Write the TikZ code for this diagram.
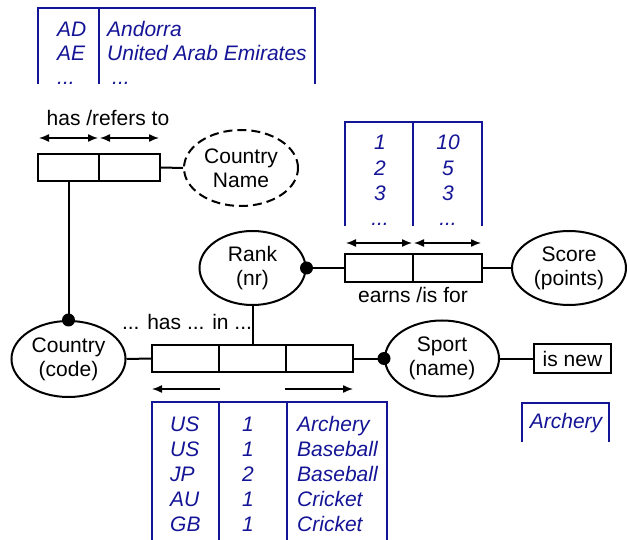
\documentclass[tikz,border=0pt]{standalone}
\usepackage{fontspec}
\setmainfont{Liberation Sans}
\usetikzlibrary{shapes.geometric,arrows.meta}
\definecolor{tblue}{RGB}{20,20,150}
\begin{document}
\begin{tikzpicture}[x=1pt,y=-1pt,
  every node/.style={font=\fontsize{21}{24}\selectfont},
  obj/.style={ellipse,draw,line width=2pt,minimum width=114pt,minimum height=76pt,inner sep=0pt,align=center},
  role/.style={rectangle,draw,line width=2pt,minimum height=27pt,inner sep=0pt},
  conn/.style={line width=2pt},
  span/.style={line width=1.4pt},
  tip/.style={-{Latex[length=10pt,width=8pt]}},
  tips/.style={{Latex[length=10pt,width=8pt]}-{Latex[length=10pt,width=8pt]}},
  grid/.style={tblue,line width=2pt},
  cell/.style={text=tblue,font=\fontsize{21}{24}\selectfont\itshape,inner sep=0pt},
  lbl/.style={inner sep=0pt,anchor=base},
  dot/.style={circle,fill,inner sep=0pt,minimum size=13pt}]
\useasboundingbox (0,0) rectangle (627,540);

% ---- CountryCode has / refers to CountryName
\node[role,minimum width=61pt] (r1a) at (68.5,167.5) {};
\node[role,minimum width=61pt] (r1b) at (129.5,167.5) {};
\node[obj,dash pattern=on 9pt off 5pt] (cname) at (241,168) {Country\\Name};
\draw[conn] (r1b.east) -- (cname.west);
\draw[span,tips] ([xshift=2pt,yshift=15pt]r1a.north west) -- ([xshift=-2pt,yshift=15pt]r1a.north east);
\draw[span,tips] ([xshift=2pt,yshift=15pt]r1b.north west) -- ([xshift=-2pt,yshift=15pt]r1b.north east);
\node[lbl] (l1) at (108,126) {has /refers to};

% ---- Country
\node[obj] (country) at (68.5,359) {Country\\(code)};
\draw[conn] (r1a.south) -- (country.north);
\node[dot] (d1) at (country.north) {};

% ---- Rank earns / is for Score
\node[obj,minimum width=106pt,minimum height=74pt] (rank) at (252.5,268) {Rank\\(nr)};
\node[role,minimum width=68pt,minimum height=28pt] (r2a) at (379,268) {};
\node[role,minimum width=69pt,minimum height=28pt] (r2b) at (447.5,268) {};
\node[obj,minimum height=74pt] (score) at (569,268) {Score\\(points)};
\draw[conn] (rank.east) -- (r2a.west);
\node[dot] (d2) at (rank.east) {};
\draw[conn] (r2b.east) -- (score.west);
\draw[span,tips] ([xshift=2pt,yshift=10pt]r2a.north west) -- ([xshift=-2pt,yshift=10pt]r2a.north east);
\draw[span,tips] ([xshift=2pt,yshift=10pt]r2b.north west) -- ([xshift=-2pt,yshift=10pt]r2b.north east);
\node[lbl] (l2) at (413,303) {earns /is for};

% ---- Country has Rank in Sport
\node[role,minimum width=67pt] (r3a) at (185.5,358.5) {};
\node[role,minimum width=67pt] (r3b) at (252.5,358.5) {};
\node[role,minimum width=67pt] (r3c) at (319.5,358.5) {};
\node[obj] (sport) at (442,358.5) {Sport\\(name)};
\draw[conn] (country.east) -- (r3a.west);
\draw[conn] (rank.south) -- (r3b.north);
\draw[conn] (r3c.east) -- (sport.west);
\node[dot] (d3) at (sport.west) {};
\draw[span,tip] ([yshift=-16pt]r3a.south east) -- ([xshift=1pt,yshift=-16pt]r3a.south west);
\draw[span,tip] ([yshift=-16pt]r3c.south west) -- ([xshift=-1pt,yshift=-16pt]r3c.south east);
\node[lbl] (l3) at (187,330) {... has ... in ...};

% ---- Sport is new
\node[rectangle,draw,line width=2pt,minimum width=77pt,minimum height=29pt,inner sep=0pt] (isnew) at (572.5,358.5) {is new};
\draw[conn] (sport.east) -- (isnew.west);

% ---- sample populations
\begin{scope}
\clip (0,0) rectangle (627,84);
\draw[grid] (38,84) -- (38,8) -- (315,8) -- (315,84);
\draw[grid] (99,8) -- (99,84);
\node[cell,anchor=base west] (t1a) at (57,36.5) {AD};
\node[cell,anchor=base west] (t1b) at (57,60.5) {AE};
\node[cell,anchor=base west] (t1c) at (57,84.5) {...};
\node[cell,anchor=base west] (t1d) at (107,36.5) {Andorra};
\node[cell,anchor=base west] (t1e) at (107,60.5) {United Arab Emirates};
\node[cell,anchor=base west] (t1f) at (112,84.5) {...};
\end{scope}

\begin{scope}
\clip (0,0) rectangle (627,226);
\draw[grid] (345,226) -- (345,122) -- (482,122) -- (482,226);
\draw[grid] (413,122) -- (413,226);
\foreach \a/\b/\y [count=\i] in {1/10/149.5, 2/5/175.5, 3/3/200.5}{
  \node[cell,anchor=base] (s\i a) at (380,\y) {\a};
  \node[cell,anchor=base] (s\i b) at (448,\y) {\b};
}
\node[cell,anchor=base] (s4a) at (380,225.5) {...};
\node[cell,anchor=base] (s4b) at (448,225.5) {...};
\end{scope}

\draw[grid] (152,540) -- (152,402) -- (387,402) -- (387,540);
\draw[grid] (219,402) -- (219,540);
\draw[grid] (287,402) -- (287,540);
\foreach \c/\r/\s/\y [count=\i] in {US/1/Archery/431.5, US/1/Baseball/456.5, JP/2/Baseball/481.5, AU/1/Cricket/506.5, GB/1/Cricket/531.5}{
  \node[cell,anchor=base west] (p\i a) at (170,\y) {\c};
  \node[cell,anchor=base] (p\i b) at (248,\y) {\r};
  \node[cell,anchor=base west] (p\i c) at (297,\y) {\s};
}

\draw[grid] (522,442) -- (522,403) -- (609,403) -- (609,442);
\node[cell,anchor=base] (n1) at (566,428.5) {Archery};
\end{tikzpicture}
\end{document}
